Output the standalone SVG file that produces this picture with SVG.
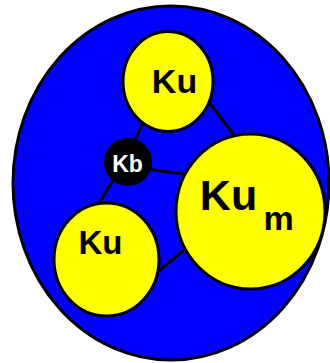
<svg xmlns="http://www.w3.org/2000/svg" width="330" height="363" viewBox="0 0 330 363">
<style>
.n{fill:#ffff00;stroke:#000;stroke-width:3}
.t{font-family:"Liberation Sans",Arial,sans-serif;font-weight:bold;fill:#000;text-anchor:middle}
.c line{stroke:#000;stroke-width:3}
</style>
<rect width="330" height="363" fill="#fff"/>
<g id="outer"><ellipse cx="171" cy="183" rx="158" ry="177" fill="#0000ff" stroke="#000" stroke-width="3"/></g>
<g class="c" id="connectors">
<line x1="205" y1="97" x2="240" y2="143"/>
<line x1="145" y1="118" x2="133" y2="145"/>
<line x1="140" y1="168" x2="190" y2="175"/>
<line x1="118" y1="172" x2="96" y2="208"/>
<line x1="150" y1="278" x2="190" y2="245"/>
</g>
<g id="ku-top"><ellipse class="n" cx="168" cy="81.5" rx="45" ry="50"/><text class="t" x="174.5" y="93" font-size="34">Ku</text></g>
<g id="kb"><circle cx="128" cy="162" r="24" fill="#000"/><text x="127.5" y="172" font-family="Liberation Sans,Arial,sans-serif" font-weight="bold" font-size="23" fill="#fff" text-anchor="middle">Kb</text></g>
<g id="ku-bottom"><ellipse class="n" cx="106.5" cy="259.5" rx="52.5" ry="56.5"/><text class="t" x="100.5" y="254" font-size="33">Ku</text></g>
<g id="ku-m"><ellipse class="n" cx="250.5" cy="211.5" rx="74.5" ry="77.5"/><text class="t" x="228.5" y="210" font-size="43">Ku</text><text class="t" x="278.5" y="230" font-size="34">m</text></g>
</svg>
